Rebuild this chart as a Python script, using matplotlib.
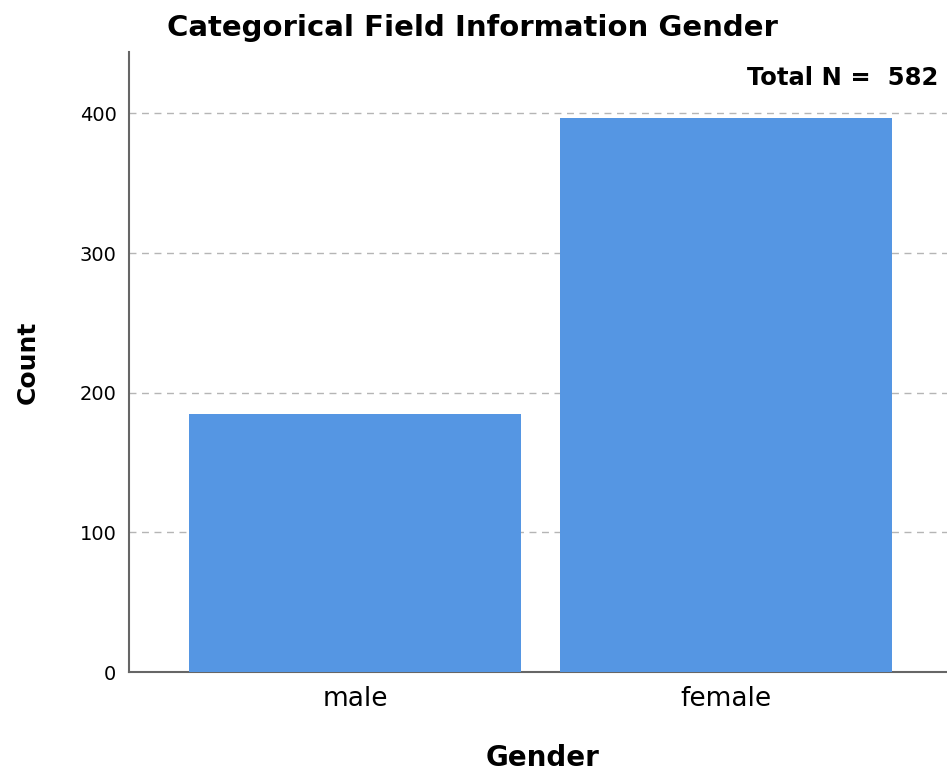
import matplotlib
matplotlib.use("Agg")
import matplotlib.pyplot as plt

plt.rcParams['font.family'] = ['DejaVu Sans']

# data
genders = ["male", "female"]
counts = [185, 397]
total_n = sum(counts)

fig = plt.figure(figsize=(9.47, 7.71), dpi=100)
ax = fig.add_axes([0.1362, 0.1284, 1.0 - 0.1362, 0.9326 - 0.1284])

x = range(len(genders))
ax.bar(x, counts, width=0.895, color="#5596E3", zorder=3)

ax.set_xlim(-0.61, 1.596)
ax.set_ylim(0, 444)
ax.set_yticks([0, 100, 200, 300, 400])
ax.set_xticks(list(x))
ax.set_xticklabels(genders, fontsize=19)
ax.tick_params(axis='y', labelsize=14, length=0, pad=9)
ax.tick_params(axis='x', length=0, pad=10)

for y in [100, 200, 300, 400]:
    ax.axhline(y, color="#b5b5b5", linestyle=(0, (5, 4)), linewidth=1, zorder=1)

for s in ["top", "right"]:
    ax.spines[s].set_visible(False)
for s in ["left", "bottom"]:
    ax.spines[s].set_color("#666666")
    ax.spines[s].set_linewidth(1.5)

ax.set_ylabel("Count", fontsize=18, fontweight="bold", labelpad=29)
ax.set_xlabel("Gender", fontsize=20, fontweight="bold", labelpad=23)
ax.xaxis.label.set_x(0.506)

fig.text(0.499, 0.964, "Categorical Field Information Gender", ha="center",
         va="center", fontsize=21, fontweight="bold")
ax.text(0.989, 0.958, "Total N =  %d" % total_n, transform=ax.transAxes,
        ha="right", va="center", fontsize=17.5, fontweight="bold")

fig.savefig("out.png", dpi=100)
